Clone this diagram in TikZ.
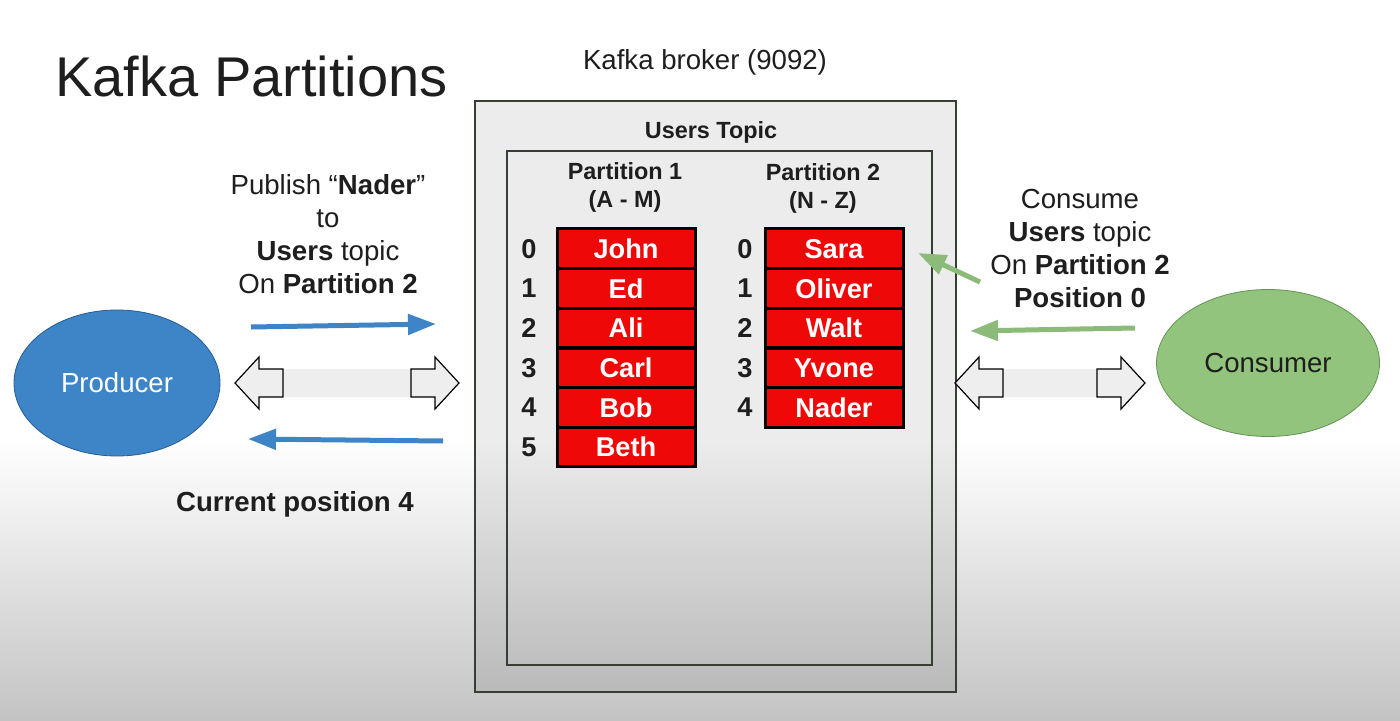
\documentclass[tikz,border=0pt]{standalone}
\usepackage{fontspec}
\setmainfont{Liberation Sans}
\usetikzlibrary{arrows.meta,positioning,shapes.geometric,calc}
\definecolor{cellred}{RGB}{238,8,8}
\definecolor{prodblue}{RGB}{61,133,198}
\definecolor{prodedge}{RGB}{38,92,148}
\definecolor{consgreen}{RGB}{147,196,125}
\definecolor{consedge}{RGB}{98,148,84}
\definecolor{arrowgreen}{RGB}{140,186,120}
\definecolor{boxedge}{RGB}{55,62,50}
\definecolor{inkgray}{RGB}{30,30,30}
\definecolor{fadegray}{RGB}{195,195,195}
\definecolor{hollowgray}{RGB}{238,238,238}

\begin{document}
\begin{tikzpicture}[x=0.5pt, y=-0.5pt,
  txt/.style={font=\fontsize{13.8}{16.5}\selectfont, text=inkgray, align=center, inner sep=0pt},
  head/.style={font=\bfseries\fontsize{11.7}{14}\selectfont, text=inkgray, align=center, inner sep=0pt},
  cell/.style={draw=black, line width=1.5pt, fill=cellred, text=white,
    font=\bfseries\fontsize{13.6}{16}\selectfont, minimum width=69pt, minimum height=19.8pt, inner sep=0pt},
  idx/.style={font=\bfseries\fontsize{13.6}{16}\selectfont, text=inkgray, inner sep=0pt},
  flow/.style={line width=2.5pt, -{Triangle[length=14pt,width=10pt]}},
  hollow/.style={draw=black, line width=0.6pt, fill=hollowgray, line join=miter}]
  \useasboundingbox (0,0) rectangle (1400,721);
  \fill[white] (0,0) rectangle (1400,721);
  \shade[top color=white, bottom color=fadegray] (0,440) rectangle (1400,721);
  % title
  \node[font=\fontsize{28}{30}\selectfont, text=inkgray, anchor=base west, inner sep=0pt] (title) at (55,97) {Kafka Partitions};
  % broker
  \node[txt, anchor=base] (broker) at (705,70) {Kafka broker (9092)};
  \draw[boxedge, line width=1pt, fill=black, fill opacity=0.075] (475,101) rectangle (956,692);
  \draw[boxedge, line width=0.8pt] (507,151) rectangle (932,665);
  \node[head, anchor=base] (topic) at (711,139) {Users Topic};
  \node[head] (part1) at (625,187) {Partition 1\\(A - M)};
  \node[head] (part2) at (823,188) {Partition 2\\(N - Z)};
  % partition cells
  \foreach \name [count=\i from 0] in {John,Ed,Ali,Carl,Bob,Beth} {
    \node[cell] (pa\i) at (626,248.8+39.67*\i) {\name};
    \node[idx] (ia\i) at (529,248.8+39.67*\i) {\i};
  }
  \foreach \name [count=\i from 0] in {Sara,Oliver,Walt,Yvone,Nader} {
    \node[cell] (pb\i) at (834,248.8+39.67*\i) {\name};
    \node[idx] (ib\i) at (745,248.8+39.67*\i) {\i};
  }
  % producer side
  \node[ellipse, draw=prodedge, fill=prodblue, text=white, font=\fontsize{13.8}{16}\selectfont,
    minimum width=103pt, minimum height=73pt, inner sep=0pt] (producer) at (117,383) {Producer};
  \node[txt] (publish) at (328,234) {Publish \textquotedblleft\textbf{Nader}\textquotedblright\\to\\\textbf{Users} topic\\On \textbf{Partition 2}};
  \coordinate (pubS) at (251,327);
  \coordinate (pubE) at (436,324);
  \coordinate (ackS) at (443,441);
  \coordinate (ackE) at (248,439);
  \draw[flow, prodblue] (pubS) -- (pubE);
  \draw[flow, prodblue] (ackS) -- (ackE);
  \node[txt, font=\bfseries\fontsize{13.8}{16.5}\selectfont] (current) at (295,504) {Current position 4};
  % consumer side
  \node[ellipse, draw=consedge, fill=consgreen, text=inkgray, font=\fontsize{13.8}{16}\selectfont,
    minimum width=111.5pt, minimum height=73.5pt, inner sep=0pt] (consumer) at (1268,363) {Consumer};
  \node[txt] (consume) at (1080,248) {Consume\\\textbf{Users} topic\\On \textbf{Partition 2}\\\textbf{Position 0}};
  \coordinate (readS) at (980,282);
  \coordinate (readE) at (918,253);
  \coordinate (pollS) at (1135,328);
  \coordinate (pollE) at (970,331);
  \draw[flow, arrowgreen] (readS) -- (readE);
  \draw[flow, arrowgreen] (pollS) -- (pollE);
  % hollow double arrows
  \foreach \xa/\xb in {235/459, 955/1145} {
    \fill[hollowgray] (\xa+40,369) rectangle (\xb-40,397);
    \draw[hollow] (\xa,383) -- (\xa+24,357) -- (\xa+24,369) -- (\xa+48,369)
      -- (\xa+48,397) -- (\xa+24,397) -- (\xa+24,409) -- cycle;
    \draw[hollow] (\xb,383) -- (\xb-24,357) -- (\xb-24,369) -- (\xb-48,369)
      -- (\xb-48,397) -- (\xb-24,397) -- (\xb-24,409) -- cycle;
  }
\end{tikzpicture}
\end{document}
